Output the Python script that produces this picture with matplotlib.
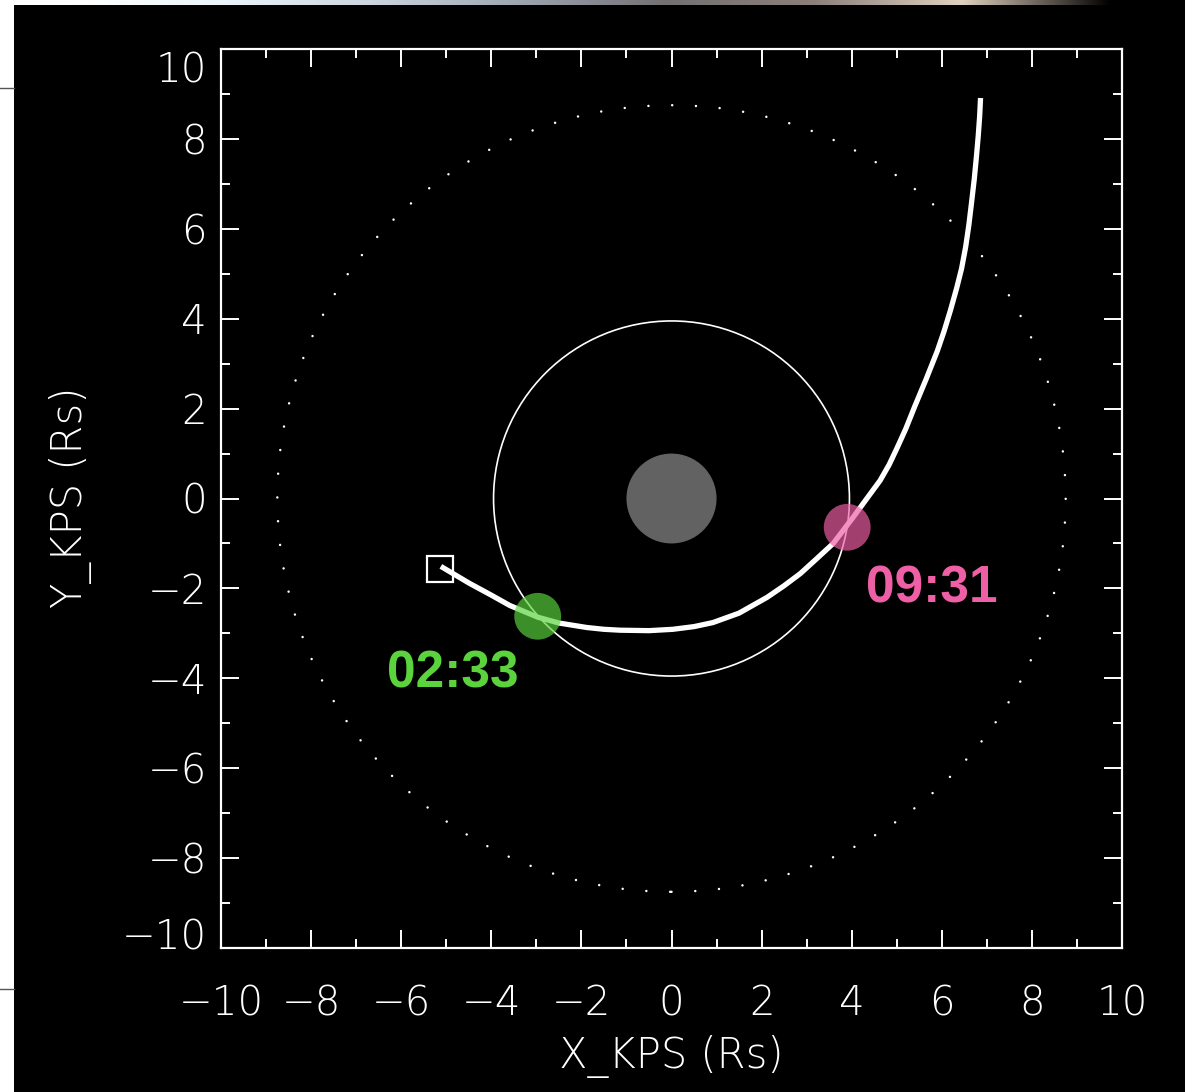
import numpy as np
import matplotlib
matplotlib.use('Agg')
import matplotlib.pyplot as plt
from matplotlib.patches import Circle, Rectangle
import matplotlib.transforms as mtransforms

# trajectory (KPS coordinates, Rs)
traj_x = [-5.12, -4.80, -4.48, -4.00, -3.59, -2.97, -2.50, -1.88, -1.50, -1.14, -0.50,
          0.03, 0.50, 0.92, 1.50, 2.12, 2.50, 2.86, 3.20, 3.59, 4.03, 4.30, 4.63,
          4.83, 5.01, 5.20, 5.40, 5.65, 5.90, 6.05, 6.19, 6.33, 6.44, 6.53, 6.60,
          6.66, 6.72, 6.77, 6.81, 6.84, 6.86]
traj_y = [-1.51, -1.70, -1.89, -2.15, -2.38, -2.64, -2.77, -2.87, -2.91, -2.93, -2.94,
          -2.91, -2.85, -2.76, -2.55, -2.20, -1.94, -1.67, -1.36, -1.00, -0.42, -0.05, 0.40,
          0.75, 1.13, 1.55, 2.05, 2.65, 3.28, 3.72, 4.18, 4.68, 5.12, 5.60, 6.08,
          6.58, 7.10, 7.62, 8.08, 8.50, 8.91]
start_xy = (-5.13, -1.56)

orbit_inner_r = 3.95
orbit_outer_r = 8.75
saturn_r = 1.0

event_times = ['02:33', '09:31']
event_x = [-2.97, 3.90]
event_y = [-2.62, -0.64]
event_colors = ['#5ad33c', '#ee5fa5']
event_label_x = [-4.86, 5.77]
event_label_y = [-3.91, -2.02]

ticks = [-10, -8, -6, -4, -2, 0, 2, 4, 6, 8, 10]

fig = plt.figure(figsize=(11.85, 10.92), dpi=100, facecolor='black')

# screenshot leftovers: white strip on the left, gradient band on top
fig.patches.append(Rectangle((0, 0), 14 / 1185, 1, transform=fig.transFigure,
                             facecolor='white', edgecolor='none', zorder=0))
fig.lines.append(plt.Line2D([0, 14 / 1185], [1 - 88 / 1092] * 2, transform=fig.transFigure,
                            color='#555555', lw=1))
fig.lines.append(plt.Line2D([0, 14 / 1185], [1 - 989 / 1092] * 2, transform=fig.transFigure,
                            color='#555555', lw=1))
band = fig.add_axes([0, 1 - 5 / 1092, 1, 5 / 1092])
band.axis('off')
grad = np.array([[[1.0, 1.0, 1.0], [0.92, 0.96, 0.98], [0.80, 0.84, 0.88],
                  [0.62, 0.65, 0.70], [0.45, 0.44, 0.45], [0.55, 0.50, 0.48],
                  [0.88, 0.82, 0.75], [0.0, 0.0, 0.0]]])
band.imshow(grad, aspect='auto', interpolation='bilinear', extent=[0, 1, 0, 1])

ax = fig.add_axes([221 / 1185, 1 - 948 / 1092, 901 / 1185, 899 / 1092])
ax.set_facecolor('black')
ax.set_xlim(-10, 10)
ax.set_ylim(-10, 10)

for s in ax.spines.values():
    s.set_color('white')
    s.set_linewidth(1.6)

ax.set_xticks(ticks)
ax.set_yticks(ticks)
ax.set_xticks(range(-10, 11), minor=True)
ax.set_yticks(range(-10, 11), minor=True)
ax.tick_params(which='both', direction='in', top=True, right=True, color='white', width=1.4)
ax.tick_params(which='major', length=13)
ax.tick_params(which='minor', length=6.5)
ax.tick_params(axis='x', which='major', pad=26, labelsize=29, labelcolor='white')
ax.tick_params(axis='y', which='major', pad=10, labelsize=29, labelcolor='white')
for lab in ax.get_xticklabels() + ax.get_yticklabels():
    lab.set_fontfamily('DejaVu Sans')
    lab.set_fontweight('light')

# end labels of the y axis sit slightly inside the range
ylabs = ax.get_yticklabels()
ylabs[0].set_transform(ylabs[0].get_transform() +
                       mtransforms.ScaledTranslation(0, 14 / 100, fig.dpi_scale_trans))
ylabs[-1].set_transform(ylabs[-1].get_transform() +
                        mtransforms.ScaledTranslation(0, -18 / 100, fig.dpi_scale_trans))

fig.text(671 / 1185, 1 - 1057 / 1092, 'X_KPS (Rs)', color='white', fontsize=30,
         fontweight='light', ha='center', va='center')
fig.text(70 / 1185, 1 - 497 / 1092, 'Y_KPS (Rs)', color='white', fontsize=30,
         fontweight='light', ha='center', va='center', rotation=90)

# orbits and planet
ax.add_patch(Circle((0, 0), orbit_outer_r, fill=False, edgecolor='white', lw=1.8,
                    linestyle=(0, (0.01, 9.5)), capstyle='round'))
ax.add_patch(Circle((0, 0), orbit_inner_r, fill=False, edgecolor='white', lw=1.2))
ax.add_patch(Circle((0, 0), saturn_r, facecolor='#626262', edgecolor='none'))

# trajectory
ax.plot(traj_x, traj_y, color='white', lw=3.8, solid_capstyle='butt',
        solid_joinstyle='round', zorder=3)
ax.plot([start_xy[0]], [start_xy[1]], marker='s', markersize=19, markerfacecolor='none',
        markeredgecolor='white', markeredgewidth=1.6, zorder=3)

for t, x, y, c, lx, ly in zip(event_times, event_x, event_y, event_colors,
                              event_label_x, event_label_y):
    ax.add_patch(Circle((x, y), 0.52, facecolor=c, edgecolor='none', alpha=0.68, zorder=4))
    ax.text(lx, ly, t, color=c, fontsize=37, fontweight='bold', family='Liberation Sans',
            ha='center', va='center', zorder=5)

fig.savefig('out.png', dpi=100, facecolor='black')
